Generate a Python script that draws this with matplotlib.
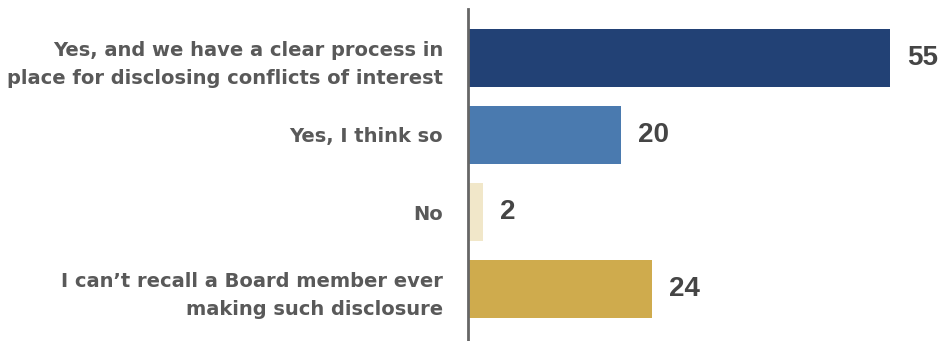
import matplotlib
matplotlib.use("Agg")
import matplotlib.pyplot as plt

categories = [
    "Yes, and we have a clear process in\nplace for disclosing conflicts of interest",
    "Yes, I think so",
    "No",
    "I can\u2019t recall a Board member ever\nmaking such disclosure",
]
values = [55, 20, 2, 24]
colors = ["#224175", "#4a7aaf", "#f1e7c9", "#cfab4d"]

fig = plt.figure(figsize=(9.42, 3.41), dpi=100)
ax = fig.add_axes([468 / 942, 0, 474 / 942, 332 / 341])

pos = list(range(len(categories)))
ax.barh(pos, values, height=0.75, color=colors)

ax.set_xlim(0, 474 / 7.67)
ax.set_ylim(3.67, -0.63)

for p, v in zip(pos, values):
    ax.text(v + 2.2, p, str(v), va="center", ha="left", fontsize=20,
            fontweight="bold", color="#454545", family="Liberation Sans")

ax.set_yticks(pos)
ax.set_yticklabels(categories, fontsize=14, color="#595959", fontweight="bold",
                   family="DejaVu Sans", linespacing=1.6)
ax.tick_params(axis="y", length=0, pad=18)
ax.set_xticks([])

for s in ["top", "right", "bottom"]:
    ax.spines[s].set_visible(False)
ax.spines["left"].set_color("#666666")
ax.spines["left"].set_linewidth(2)

fig.savefig("out.png", dpi=100)
